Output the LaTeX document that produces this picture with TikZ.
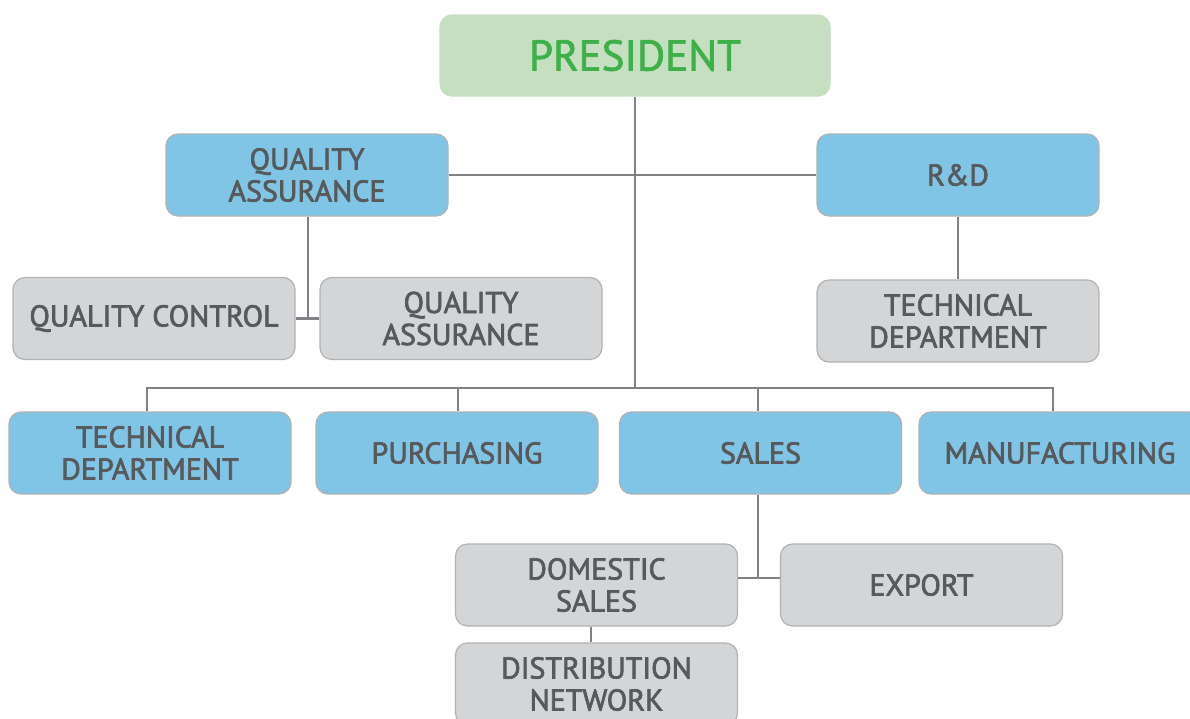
\documentclass[tikz,border=0pt]{standalone}
\usepackage{fontspec}
\newfontfamily\orgfont{PT Sans}
\newcommand\heavytext{\special{pdf:literal direct 2 Tr 0.7 w}}
\definecolor{bluebox}{HTML}{80C5E6}
\definecolor{graybox}{HTML}{D4D5D7}
\definecolor{greenbox}{HTML}{C5DFC0}
\definecolor{greentext}{HTML}{3DB049}
\definecolor{boxtext}{HTML}{58595B}
\definecolor{boxborder}{HTML}{B0B2B4}
\definecolor{linecol}{HTML}{808285}
\tikzset{
  orgbox/.style={rectangle, rounded corners=12pt, draw=boxborder, line width=1.2pt,
    minimum width=282pt, minimum height=82pt, inner sep=0pt, align=center,
    text=boxtext, font=\orgfont\fontsize{30}{32}\selectfont\heavytext},
  bluenode/.style={orgbox, fill=bluebox},
  graynode/.style={orgbox, fill=graybox},
  connector/.style={draw=linecol, line width=2.6pt}
}
\begin{document}
\begin{tikzpicture}[x=1pt,y=-1pt]
\useasboundingbox (0,0) rectangle (1190,718);
\clip (0,0) rectangle (1190,718);
\fill[white] (0,0) rectangle (1190,718);
% nodes
\node[orgbox, fill=greenbox, draw=greenbox, minimum width=390pt, minimum height=81pt,
  text=greentext, font=\orgfont\fontsize{43}{45}\selectfont\heavytext] (pres) at (635,55.5) {PRESIDENT};
\node[bluenode] (qa) at (307,175) {QUALITY\\ASSURANCE};
\node[bluenode] (rd) at (958,175) {R\&D};
\node[graynode] (qc) at (154,318.5) {QUALITY CONTROL};
\node[graynode] (qa2) at (461,318.5) {QUALITY\\ASSURANCE};
\node[graynode] (td1) at (958,321) {TECHNICAL\\DEPARTMENT};
\node[bluenode] (td2) at (150,453) {TECHNICAL\\DEPARTMENT};
\node[bluenode] (pur) at (457,453) {PURCHASING};
\node[bluenode] (sales) at (760.5,453) {SALES};
\node[bluenode] (manuf) at (1060,453) {MANUFACTURING};
\node[graynode] (dom) at (596.5,585) {DOMESTIC\\SALES};
\node[graynode] (exp) at (921.5,585) {EXPORT};
\node[graynode] (dist) at (596.5,684) {DISTRIBUTION\\NETWORK};
% connectors
\coordinate (bus) at (635,388);
\draw[connector] (pres.south) -- (bus);
\draw[connector] (qa.east) -- (rd.west);
\draw[connector] ([xshift=-3pt]td2.north) |- (bus) -| ([xshift=-7pt]manuf.north);
\draw[connector] ([xshift=1pt]pur.north) -- ([xshift=1pt]pur.north |- bus);
\draw[connector] ([xshift=-2.5pt]sales.north) -- ([xshift=-2.5pt]sales.north |- bus);
\draw[connector] ([xshift=1pt]qa.south) -- ([xshift=1pt]qa.south |- qc.east);
\draw[connector] (qc.east) -- (qa2.west);
\draw[connector] (rd.south) -- (td1.north);
\draw[connector] ([xshift=-2.5pt]sales.south) -- ([xshift=-2.5pt,yshift=7pt]sales.south |- dom.east);
\draw[connector] ([yshift=7pt]dom.east) -- ([yshift=7pt]exp.west);
\draw[connector] ([xshift=-5.5pt]dom.south) -- ([xshift=-5.5pt]dist.north);
\end{tikzpicture}
\end{document}
